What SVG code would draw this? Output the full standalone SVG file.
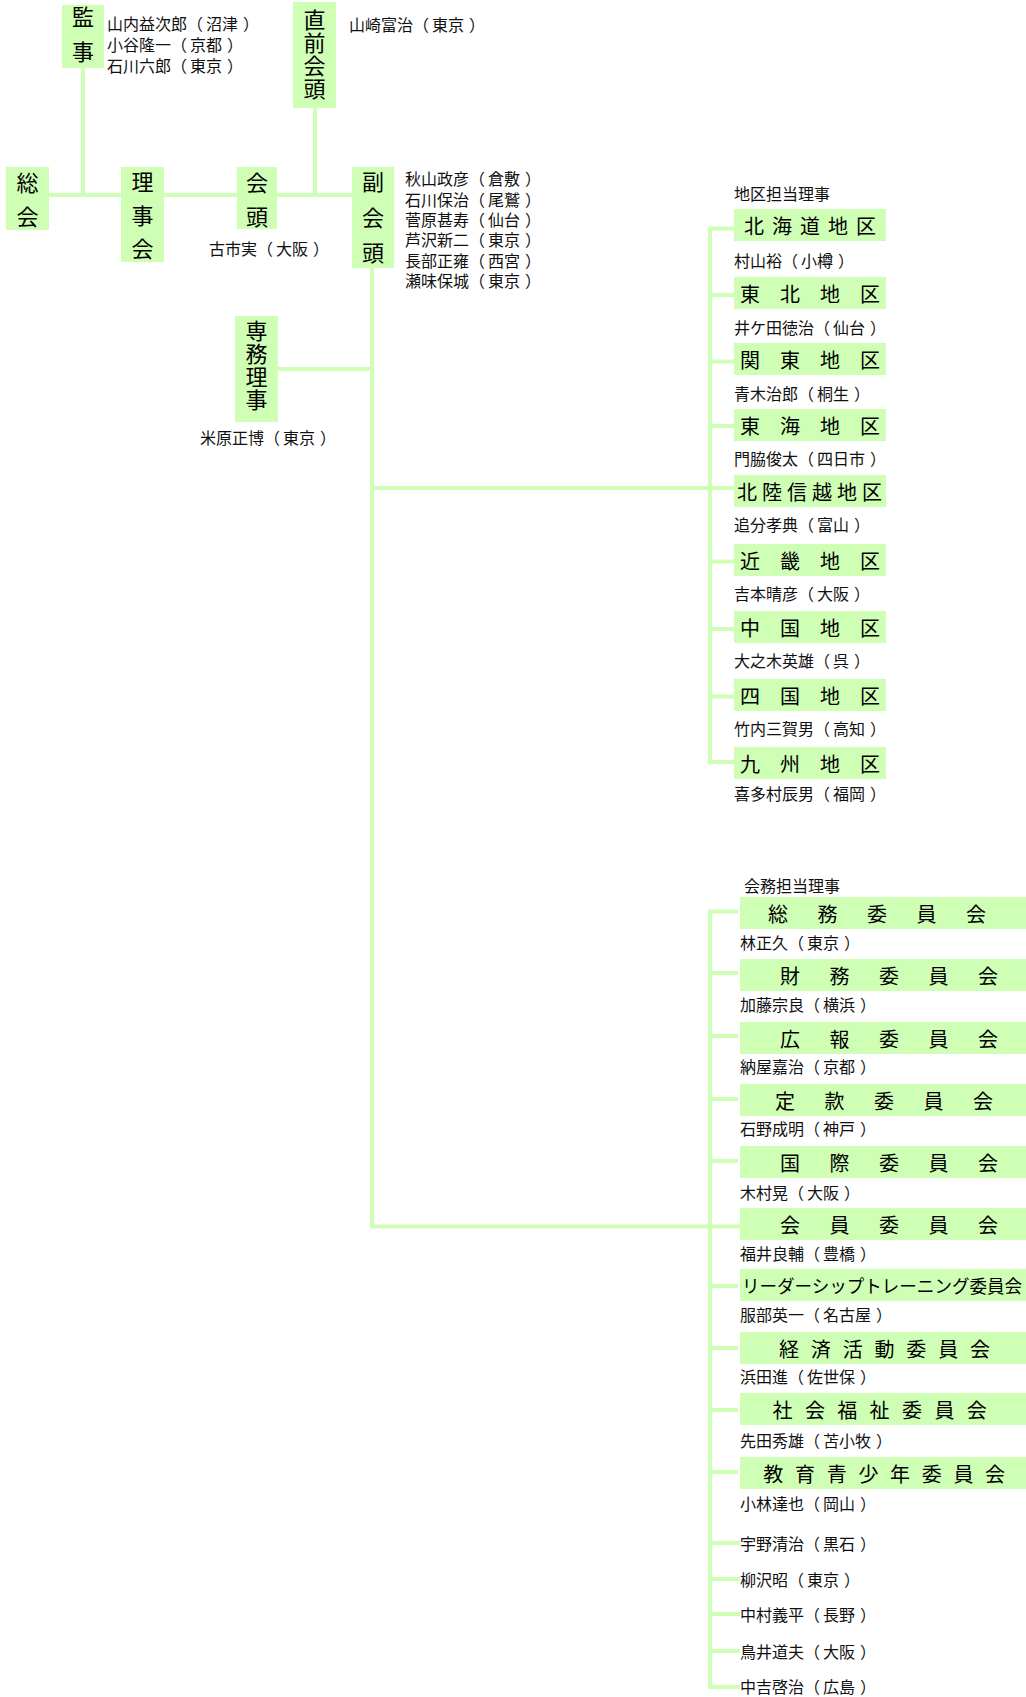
<svg xmlns="http://www.w3.org/2000/svg" width="1026" height="1697" viewBox="0 0 1026 1697">
<style>
.box{fill:#CFFFB5}
.ln{stroke:#CFFFB5;stroke-width:4;fill:none;stroke-linecap:butt}
.v{font-family:"Noto Sans CJK JP","Noto Sans",sans-serif;font-size:22px;writing-mode:vertical-rl;text-anchor:start;fill:#000}
.dl{font-family:"Noto Sans CJK JP","Noto Sans",sans-serif;font-size:20px;text-anchor:middle;dominant-baseline:central;fill:#000}
.nm{font-family:"Noto Sans CJK JP","Noto Sans",sans-serif;font-size:16px;dominant-baseline:central;fill:#111}
</style>
<rect width="1026" height="1697" fill="#fff"/>
<g id="connectors">
<path class="ln" d="M83 68V197"/>
<path class="ln" d="M315 108V197"/>
<path class="ln" d="M49 195H352"/>
<path class="ln" d="M372 268V1226.5H740"/>
<path class="ln" d="M278 369H372"/>
<path class="ln" d="M372 488H734"/>
<path class="ln" d="M737 228.5H710V762H734"/>
<path class="ln" d="M710 295H734"/>
<path class="ln" d="M710 361.5H734"/>
<path class="ln" d="M710 426H734"/>
<path class="ln" d="M710 561.5H734"/>
<path class="ln" d="M710 629H734"/>
<path class="ln" d="M710 696.5H734"/>
<path class="ln" d="M738 911.5H710V1687H740"/>
<path class="ln" d="M710 973H738"/>
<path class="ln" d="M710 1036H738"/>
<path class="ln" d="M710 1099H738"/>
<path class="ln" d="M710 1161H738"/>
<path class="ln" d="M710 1286H738"/>
<path class="ln" d="M710 1348H738"/>
<path class="ln" d="M710 1410H738"/>
<path class="ln" d="M710 1472H738"/>
<path class="ln" d="M710 1543H740"/>
<path class="ln" d="M710 1579H740"/>
<path class="ln" d="M710 1614H740"/>
<path class="ln" d="M710 1651H740"/>
</g>
<g id="kanji">
<rect class="box" x="62" y="5" width="42" height="63"/>
<text class="v" x="83" y="6" style="letter-spacing:13px">監事</text>
<text class="nm" x="107" y="23.3">山内益次郎（<tspan dx="3">沼津</tspan><tspan dx="5">）</tspan></text>
<text class="nm" x="107" y="44.3">小谷隆一（<tspan dx="3">京都</tspan><tspan dx="5">）</tspan></text>
<text class="nm" x="107" y="65">石川六郎（<tspan dx="3">東京</tspan><tspan dx="5">）</tspan></text>
</g>
<g id="zenkaito">
<rect class="box" x="293" y="2" width="43" height="106"/>
<text class="v" x="314.5" y="9" style="letter-spacing:1px">直前会頭</text>
<text class="nm" x="349" y="24">山崎富治（<tspan dx="3">東京</tspan><tspan dx="5">）</tspan></text>
</g>
<g id="sokai">
<rect class="box" x="6" y="167" width="43" height="63"/>
<text class="v" x="27.5" y="172" style="letter-spacing:12px">総会</text>
</g>
<g id="rijikai">
<rect class="box" x="121" y="167" width="43" height="95"/>
<text class="v" x="142.5" y="171" style="letter-spacing:11.5px">理事会</text>
</g>
<g id="kaito">
<rect class="box" x="237" y="167" width="40" height="62"/>
<text class="v" x="257" y="172" style="letter-spacing:12px">会頭</text>
<text class="nm" x="209" y="248">古市実（<tspan dx="3">大阪</tspan><tspan dx="5">）</tspan></text>
</g>
<g id="fukukaito">
<rect class="box" x="352" y="167" width="42" height="101"/>
<text class="v" x="373" y="171" style="letter-spacing:13.5px">副会頭</text>
<text class="nm" x="405" y="178">秋山政彦（<tspan dx="3">倉敷</tspan><tspan dx="5">）</tspan></text>
<text class="nm" x="405" y="198.5">石川保治（<tspan dx="3">尾鷲</tspan><tspan dx="5">）</tspan></text>
<text class="nm" x="405" y="219">菅原甚寿（<tspan dx="3">仙台</tspan><tspan dx="5">）</tspan></text>
<text class="nm" x="405" y="239">芦沢新二（<tspan dx="3">東京</tspan><tspan dx="5">）</tspan></text>
<text class="nm" x="405" y="259.5">長部正雍（<tspan dx="3">西宮</tspan><tspan dx="5">）</tspan></text>
<text class="nm" x="405" y="280">瀬味保城（<tspan dx="3">東京</tspan><tspan dx="5">）</tspan></text>
</g>
<g id="senmu">
<rect class="box" x="235" y="316" width="43" height="106"/>
<text class="v" x="256.5" y="320" style="letter-spacing:1px">専務理事</text>
<text class="nm" x="200" y="437">米原正博（<tspan dx="3">東京</tspan><tspan dx="5">）</tspan></text>
</g>
<g id="districts">
<text class="nm" x="734" y="192.7">地区担当理事</text>
<g id="d-hokkaido"><rect class="box" x="734" y="209" width="152" height="32"/><text class="dl" x="754 782 810 838 866" y="225">北海道地区</text><text class="nm" x="734" y="260">村山裕（<tspan dx="3">小樽</tspan><tspan dx="5">）</tspan></text></g>
<g id="d-tohoku"><rect class="box" x="734" y="277" width="152" height="32"/><text class="dl" x="750 790 830 870" y="293">東北地区</text><text class="nm" x="734" y="327">井ケ田徳治（<tspan dx="3">仙台</tspan><tspan dx="5">）</tspan></text></g>
<g id="d-kanto"><rect class="box" x="734" y="343" width="152" height="32"/><text class="dl" x="750 790 830 870" y="359">関東地区</text><text class="nm" x="734" y="393">青木治郎（<tspan dx="3">桐生</tspan><tspan dx="5">）</tspan></text></g>
<g id="d-tokai"><rect class="box" x="734" y="409" width="152" height="32"/><text class="dl" x="750 790 830 870" y="425">東海地区</text><text class="nm" x="734" y="458">門脇俊太（<tspan dx="3">四日市</tspan><tspan dx="5">）</tspan></text></g>
<g id="d-hokuriku"><rect class="box" x="734" y="475" width="152" height="32"/><text class="dl" x="747 772 797 822 847 872" y="491">北陸信越地区</text><text class="nm" x="734" y="524">追分孝典（<tspan dx="3">富山</tspan><tspan dx="5">）</tspan></text></g>
<g id="d-kinki"><rect class="box" x="734" y="544" width="152" height="32"/><text class="dl" x="750 790 830 870" y="560">近畿地区</text><text class="nm" x="734" y="593">吉本晴彦（<tspan dx="3">大阪</tspan><tspan dx="5">）</tspan></text></g>
<g id="d-chugoku"><rect class="box" x="734" y="611" width="152" height="32"/><text class="dl" x="750 790 830 870" y="627">中国地区</text><text class="nm" x="734" y="660">大之木英雄（<tspan dx="3">呉</tspan><tspan dx="5">）</tspan></text></g>
<g id="d-shikoku"><rect class="box" x="734" y="679" width="152" height="32"/><text class="dl" x="750 790 830 870" y="695">四国地区</text><text class="nm" x="734" y="728">竹内三賀男（<tspan dx="3">高知</tspan><tspan dx="5">）</tspan></text></g>
<g id="d-kyushu"><rect class="box" x="734" y="747" width="152" height="32"/><text class="dl" x="750 790 830 870" y="763">九州地区</text><text class="nm" x="734" y="793">喜多村辰男（<tspan dx="3">福岡</tspan><tspan dx="5">）</tspan></text></g>
</g>
<g id="committees">
<text class="nm" x="744" y="885">会務担当理事</text>
<g id="c-somu"><rect class="box" x="740" y="897" width="286" height="32"/><text class="dl" x="778 827.5 877 926.5 976" y="913">総務委員会</text><text class="nm" x="740" y="942">林正久（<tspan dx="3">東京</tspan><tspan dx="5">）</tspan></text></g>
<g id="c-zaimu"><rect class="box" x="740" y="959" width="286" height="32"/><text class="dl" x="790 839.5 889 938.5 988" y="975">財務委員会</text><text class="nm" x="740" y="1004">加藤宗良（<tspan dx="3">横浜</tspan><tspan dx="5">）</tspan></text></g>
<g id="c-koho"><rect class="box" x="740" y="1022" width="286" height="32"/><text class="dl" x="790 839.5 889 938.5 988" y="1038">広報委員会</text><text class="nm" x="740" y="1066">納屋嘉治（<tspan dx="3">京都</tspan><tspan dx="5">）</tspan></text></g>
<g id="c-teikan"><rect class="box" x="740" y="1084" width="286" height="32"/><text class="dl" x="785 834.5 884 933.5 983" y="1100">定款委員会</text><text class="nm" x="740" y="1128">石野成明（<tspan dx="3">神戸</tspan><tspan dx="5">）</tspan></text></g>
<g id="c-kokusai"><rect class="box" x="740" y="1146" width="286" height="32"/><text class="dl" x="790 839.5 889 938.5 988" y="1162">国際委員会</text><text class="nm" x="740" y="1192">木村晃（<tspan dx="3">大阪</tspan><tspan dx="5">）</tspan></text></g>
<g id="c-kaiin"><rect class="box" x="740" y="1208" width="286" height="32"/><text class="dl" x="790 839.5 889 938.5 988" y="1224">会員委員会</text><text class="nm" x="740" y="1253">福井良輔（<tspan dx="3">豊橋</tspan><tspan dx="5">）</tspan></text></g>
<g id="c-leadership"><rect class="box" x="740" y="1269" width="286" height="32"/><text class="dl" x="742" y="1285" style="text-anchor:start;font-size:18px" textLength="280" lengthAdjust="spacingAndGlyphs">リーダーシップトレーニング委員会</text><text class="nm" x="740" y="1314">服部英一（<tspan dx="3">名古屋</tspan><tspan dx="5">）</tspan></text></g>
<g id="c-keizai"><rect class="box" x="740" y="1332" width="286" height="32"/><text class="dl" x="789 820.8 852.7 884.5 916.3 948.2 980" y="1348">経済活動委員会</text><text class="nm" x="740" y="1376">浜田進（<tspan dx="3">佐世保</tspan><tspan dx="5">）</tspan></text></g>
<g id="c-shakai"><rect class="box" x="740" y="1393" width="286" height="32"/><text class="dl" x="782.5 814.9 847.3 879.6 912 944.4 976.7" y="1409">社会福祉委員会</text><text class="nm" x="740" y="1440">先田秀雄（<tspan dx="3">苫小牧</tspan><tspan dx="5">）</tspan></text></g>
<g id="c-kyoiku"><rect class="box" x="740" y="1457" width="286" height="32"/><text class="dl" x="773.3 805 836.7 868.4 900 931.7 963.4 995" y="1473">教育青少年委員会</text><text class="nm" x="740" y="1503">小林達也（<tspan dx="3">岡山</tspan><tspan dx="5">）</tspan></text></g>
<text class="nm" x="740" y="1543">宇野清治（<tspan dx="3">黒石</tspan><tspan dx="5">）</tspan></text>
<text class="nm" x="740" y="1579">柳沢昭（<tspan dx="3">東京</tspan><tspan dx="5">）</tspan></text>
<text class="nm" x="740" y="1614">中村義平（<tspan dx="3">長野</tspan><tspan dx="5">）</tspan></text>
<text class="nm" x="740" y="1651">鳥井道夫（<tspan dx="3">大阪</tspan><tspan dx="5">）</tspan></text>
<text class="nm" x="740" y="1686">中吉啓治（<tspan dx="3">広島</tspan><tspan dx="5">）</tspan></text>
</g>
</svg>
